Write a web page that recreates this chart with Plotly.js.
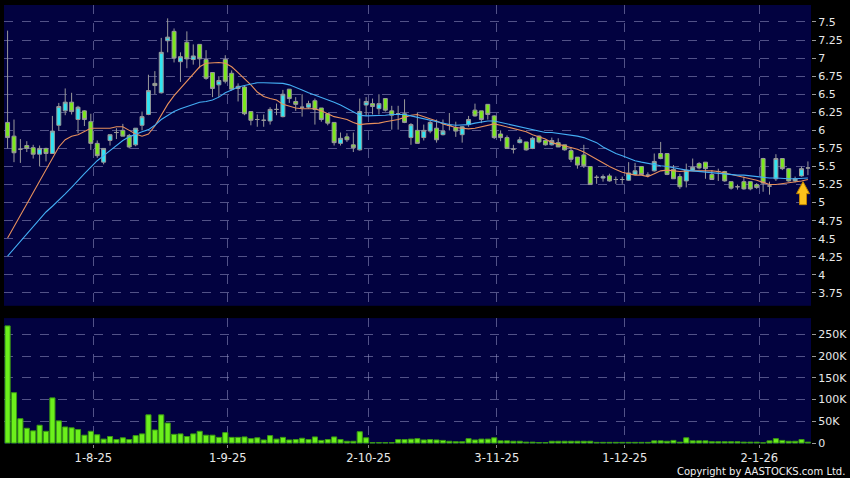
<!DOCTYPE html>
<html>
<head>
<meta charset="utf-8">
<script src="https://cdn.plot.ly/plotly-3.0.1.min.js"></script>
<style>html,body{margin:0;padding:0;background:#000;}#chart{width:850px;height:478px;}</style>
</head>
<body>
<div id="chart"></div>
<script>
// Trading-day index (0 = first bar shown)
const openP = [6.11,5.92,5.74,5.79,5.76,5.67,5.75,5.68,6.07,6.27,6.39,6.15,6.27,6.12,5.82,5.56,5.86,5.97,6.00,5.93,
5.80,6.07,6.22,6.65,6.52,7.24,7.37,6.95,7.22,6.98,7.19,6.98,6.80,6.63,6.98,6.79,6.61,6.60,6.26,6.15,
6.14,6.13,6.29,6.19,6.57,6.40,6.32,6.32,6.41,6.31,6.23,6.11,5.82,5.91,5.80,5.73,6.35,6.37,6.30,6.44,
6.27,6.23,6.23,5.90,6.00,5.90,5.99,6.03,5.94,6.07,6.04,5.94,6.08,6.28,6.27,6.36,6.20,5.95,5.90,5.74,
5.83,5.84,5.75,5.92,5.86,5.80,5.83,5.80,5.72,5.63,5.66,5.50,5.35,5.34,5.37,5.32,5.32,5.31,5.39,5.50,
5.38,5.44,5.68,5.68,5.46,5.36,5.30,5.45,5.54,5.56,5.39,5.43,5.43,5.29,5.22,5.29,5.29,5.25,5.61,5.23,
5.33,5.61,5.47,5.30,5.37,5.48];
const highP = [7.38,6.15,5.88,5.85,5.80,5.79,5.76,6.20,6.38,6.58,6.52,6.34,6.28,6.23,5.86,5.75,5.94,6.03,6.09,5.95,
6.03,6.26,6.77,6.82,7.28,7.55,7.41,7.08,7.37,7.19,7.19,7.11,6.80,6.75,7.04,6.83,6.65,6.62,6.26,6.22,
6.22,6.32,6.37,6.56,6.57,6.46,6.50,6.41,6.44,6.31,6.23,6.11,5.97,5.96,5.97,6.44,6.46,6.44,6.50,6.44,
6.34,6.34,6.43,6.10,6.25,6.08,6.14,6.15,6.15,6.24,6.12,6.06,6.20,6.37,6.27,6.36,6.21,6.00,5.93,5.80,
5.91,5.84,5.91,5.93,5.87,5.90,5.89,5.80,5.77,5.63,5.80,5.50,5.38,5.39,5.40,5.36,5.36,5.56,5.55,5.50,
5.42,5.68,5.84,5.68,5.52,5.40,5.54,5.61,5.56,5.56,5.45,5.47,5.44,5.29,5.25,5.36,5.29,5.27,5.62,5.29,
5.67,5.61,5.48,5.36,5.50,5.57];
const lowP = [5.75,5.56,5.55,5.70,5.61,5.50,5.57,5.68,6.00,6.21,6.22,5.96,6.06,5.73,5.62,5.53,5.79,5.88,5.92,5.75,
5.78,6.00,6.21,6.50,6.51,7.08,6.94,6.67,6.86,6.91,6.86,6.70,6.46,6.46,6.65,6.55,6.40,6.21,6.07,6.05,
6.05,6.08,6.21,6.18,6.38,6.27,6.19,6.30,6.08,6.12,6.07,5.79,5.79,5.84,5.70,5.72,6.20,6.22,6.22,6.26,
6.01,6.01,6.10,5.80,5.82,5.86,5.96,5.83,5.93,6.00,5.91,5.83,6.05,6.19,6.10,6.15,5.88,5.85,5.75,5.68,
5.82,5.72,5.74,5.82,5.79,5.79,5.77,5.72,5.56,5.47,5.48,5.25,5.26,5.29,5.29,5.26,5.26,5.30,5.38,5.38,
5.35,5.43,5.60,5.38,5.33,5.19,5.21,5.44,5.46,5.33,5.32,5.30,5.29,5.18,5.18,5.18,5.17,5.19,5.15,5.11,
5.30,5.45,5.29,5.28,5.36,5.38];
const closeP = [5.90,5.69,5.74,5.75,5.67,5.75,5.68,5.99,6.33,6.39,6.26,6.32,6.15,5.82,5.65,5.75,5.94,5.97,5.92,5.77,
6.03,6.19,6.55,6.62,7.08,7.29,7.00,7.02,6.99,7.03,6.99,6.72,6.58,6.69,6.68,6.57,6.58,6.23,6.14,6.15,
6.14,6.29,6.29,6.50,6.44,6.36,6.32,6.37,6.29,6.15,6.10,5.83,5.89,5.87,5.76,6.26,6.40,6.33,6.37,6.28,
6.21,6.23,6.11,6.08,5.82,6.00,6.11,5.87,5.99,6.07,5.99,6.05,6.15,6.20,6.15,6.22,5.90,5.90,5.75,5.74,
5.87,5.73,5.89,5.84,5.80,5.86,5.77,5.73,5.60,5.52,5.51,5.25,5.35,5.36,5.30,5.32,5.32,5.41,5.44,5.39,
5.38,5.57,5.61,5.39,5.33,5.22,5.45,5.49,5.48,5.47,5.32,5.43,5.30,5.20,5.22,5.19,5.19,5.21,5.27,5.23,
5.61,5.47,5.30,5.33,5.47,5.48];
const ma10 = [4.51,4.66,4.82,4.98,5.14,5.30,5.46,5.62,5.77,5.87,5.92,5.94,5.99,6.03,6.03,6.03,6.03,6.05,6.05,6.00,
5.95,5.92,5.95,6.06,6.22,6.36,6.48,6.58,6.67,6.78,6.88,6.93,6.94,6.94,6.93,6.88,6.80,6.72,6.63,6.53,
6.47,6.44,6.42,6.36,6.33,6.31,6.30,6.30,6.30,6.27,6.23,6.19,6.17,6.15,6.11,6.08,6.09,6.09,6.10,6.12,
6.13,6.15,6.18,6.21,6.22,6.19,6.17,6.13,6.09,6.06,6.04,6.03,6.02,6.03,6.05,6.08,6.09,6.07,6.05,6.03,
6.00,5.98,5.94,5.91,5.88,5.83,5.81,5.79,5.77,5.74,5.70,5.65,5.59,5.54,5.50,5.46,5.42,5.40,5.38,5.38,
5.36,5.40,5.44,5.45,5.44,5.43,5.44,5.44,5.45,5.45,5.44,5.43,5.41,5.39,5.38,5.36,5.34,5.31,5.28,5.25,
5.25,5.26,5.27,5.28,5.30,5.32];
const ma20 = [4.26,4.36,4.47,4.57,4.67,4.77,4.87,4.95,5.03,5.12,5.21,5.31,5.40,5.49,5.58,5.65,5.72,5.79,5.86,5.91,
5.95,5.98,6.01,6.07,6.15,6.21,6.26,6.30,6.33,6.36,6.39,6.40,6.42,6.46,6.52,6.56,6.60,6.62,6.64,6.66,
6.66,6.66,6.66,6.65,6.63,6.60,6.56,6.52,6.49,6.46,6.42,6.39,6.35,6.30,6.25,6.21,6.20,6.20,6.21,6.21,
6.22,6.22,6.22,6.20,6.18,6.16,6.14,6.11,6.09,6.08,6.07,6.07,6.08,6.10,6.12,6.13,6.13,6.11,6.09,6.07,
6.05,6.03,6.01,5.99,5.97,5.97,5.96,5.95,5.94,5.92,5.90,5.87,5.83,5.77,5.72,5.68,5.65,5.61,5.58,5.56,
5.54,5.53,5.51,5.50,5.48,5.46,5.45,5.44,5.43,5.42,5.41,5.40,5.39,5.39,5.38,5.38,5.37,5.36,5.35,5.34,
5.34,5.33,5.33,5.33,5.33,5.34];
const volumeK = [270,116,56,34,28,41,27,104,51,37,35,31,18,27,19,9,15,8,12,8,
17,21,65,30,65,46,20,21,15,21,27,18,18,13,24,13,13,14,10,12,
7,17,9,13,7,8,11,8,14,6,8,14,8,4,4,26,12,0.8,0.8,0.8,
0.8,8,8,9,10,7,8,7,6,4,3,3,10,7,9,9,12,5,5,4,
4,2,2,1,1,4,4,4,4,4,4,4,1.5,1.5,1.5,1.5,1.5,1.5,1.5,1.5,
1.5,5,5,4,6,2,12,5,5,5,3,3,3,3,3,2,2,2,0.5,5,
10,6,4,4,8,2];
const dateTickIdx = [13,34,56,76,96,117];
const dateTickText = ['1-8-25','1-9-25','2-10-25','3-11-25','1-12-25','2-1-26'];
const priceTicks = [3.75,4,4.25,4.5,4.75,5,5.25,5.5,5.75,6,6.25,6.5,6.75,7,7.25,7.5];
const volTicks = [0,50000,100000,150000,200000,250000];
const volTickText = ['0','50K','100K','150K','200K','250K'];
const arrowPrice = 5.29;

const idx = closeP.map((_, i) => i);
const vol = volumeK.map(v => v * 1000);
const gridCol = 'rgba(150,150,195,0.55)';

const traces = [
  {type:'candlestick', x: idx, open: openP, high: highP, low: lowP, close: closeP,
   xaxis:'x', yaxis:'y', whiskerwidth:0, hoverinfo:'skip',
   increasing:{line:{color:'#9a9a9a', width:1}, fillcolor:'#30e4f2'},
   decreasing:{line:{color:'#9a9a9a', width:1}, fillcolor:'#7be81c'}},
  {type:'scatter', mode:'lines', x: idx, y: ma10, xaxis:'x', yaxis:'y',
   line:{color:'#e8905c', width:1.1}, hoverinfo:'skip'},
  {type:'scatter', mode:'lines', x: idx, y: ma20, xaxis:'x', yaxis:'y',
   line:{color:'#44aef4', width:1.1}, hoverinfo:'skip'},
  {type:'bar', x: idx, y: vol, xaxis:'x2', yaxis:'y2', width:0.8,
   marker:{color:'#6cf01c', line:{color:'#3a9a12', width:1}}, hoverinfo:'skip'}
];

const xr = [-0.56, 125.48];
const tv = dateTickIdx.map(v => v + 0.4);
const layout = {
  width:850, height:478,
  margin:{l:4, r:39, t:5, b:34},
  paper_bgcolor:'#000000', plot_bgcolor:'#020240',
  showlegend:false, boxgap:0.12,
  font:{family:'DejaVu Sans, Verdana, sans-serif', color:'#e8e8e8', size:11},
  xaxis:{domain:[0,1], anchor:'y', range:xr, showgrid:true, gridcolor:gridCol, griddash:'dash',
         tickvals:tv, ticktext:dateTickText, showticklabels:false, ticks:'', zeroline:false,
         rangeslider:{visible:false}, fixedrange:true},
  xaxis2:{domain:[0,1], anchor:'y2', matches:'x', range:xr, showgrid:true, gridcolor:gridCol, griddash:'dash',
          tickvals:tv, ticktext:dateTickText, ticks:'outside', ticklen:3, tickcolor:'#888',
          tickfont:{size:11.5, color:'#e8e8e8'}, zeroline:false},
  yaxis:{domain:[0.3148,1], anchor:'x', side:'right', range:[3.572,7.735],
         tickvals:priceTicks, ticktext:priceTicks.map(String),
         showgrid:true, gridcolor:gridCol, griddash:'dash', zeroline:false,
         ticks:'outside', ticklen:4, tickcolor:'#999', tickfont:{size:11}},
  yaxis2:{domain:[0,0.2868], anchor:'x2', side:'right', range:[-2300,288000],
          tickvals:volTicks, ticktext:volTickText,
          showgrid:true, gridcolor:gridCol, griddash:'dash', zeroline:false,
          ticks:'outside', ticklen:4, tickcolor:'#999', tickfont:{size:11}},
  shapes:[{type:'path', xref:'x', yref:'y', xsizemode:'pixel', ysizemode:'pixel',
           xanchor: idx[idx.length-2], yanchor: arrowPrice,
           path:'M 1.5 0 L 8 -12 L 5 -12 L 5 -23 L -2 -23 L -2 -12 L -5 -12 Z',
           fillcolor:'#fcc21b', line:{color:'#c08400', width:1}, layer:'above'}],
  annotations:[{xref:'paper', yref:'paper', x:1.044, y:-0.0635, xanchor:'right', yanchor:'middle',
                text:'Copyright by AASTOCKS.com Ltd.', showarrow:false,
                font:{size:10, color:'#f0f0f0'}}]
};

Plotly.newPlot('chart', traces, layout, {staticPlot:true});
</script>
</body>
</html>
